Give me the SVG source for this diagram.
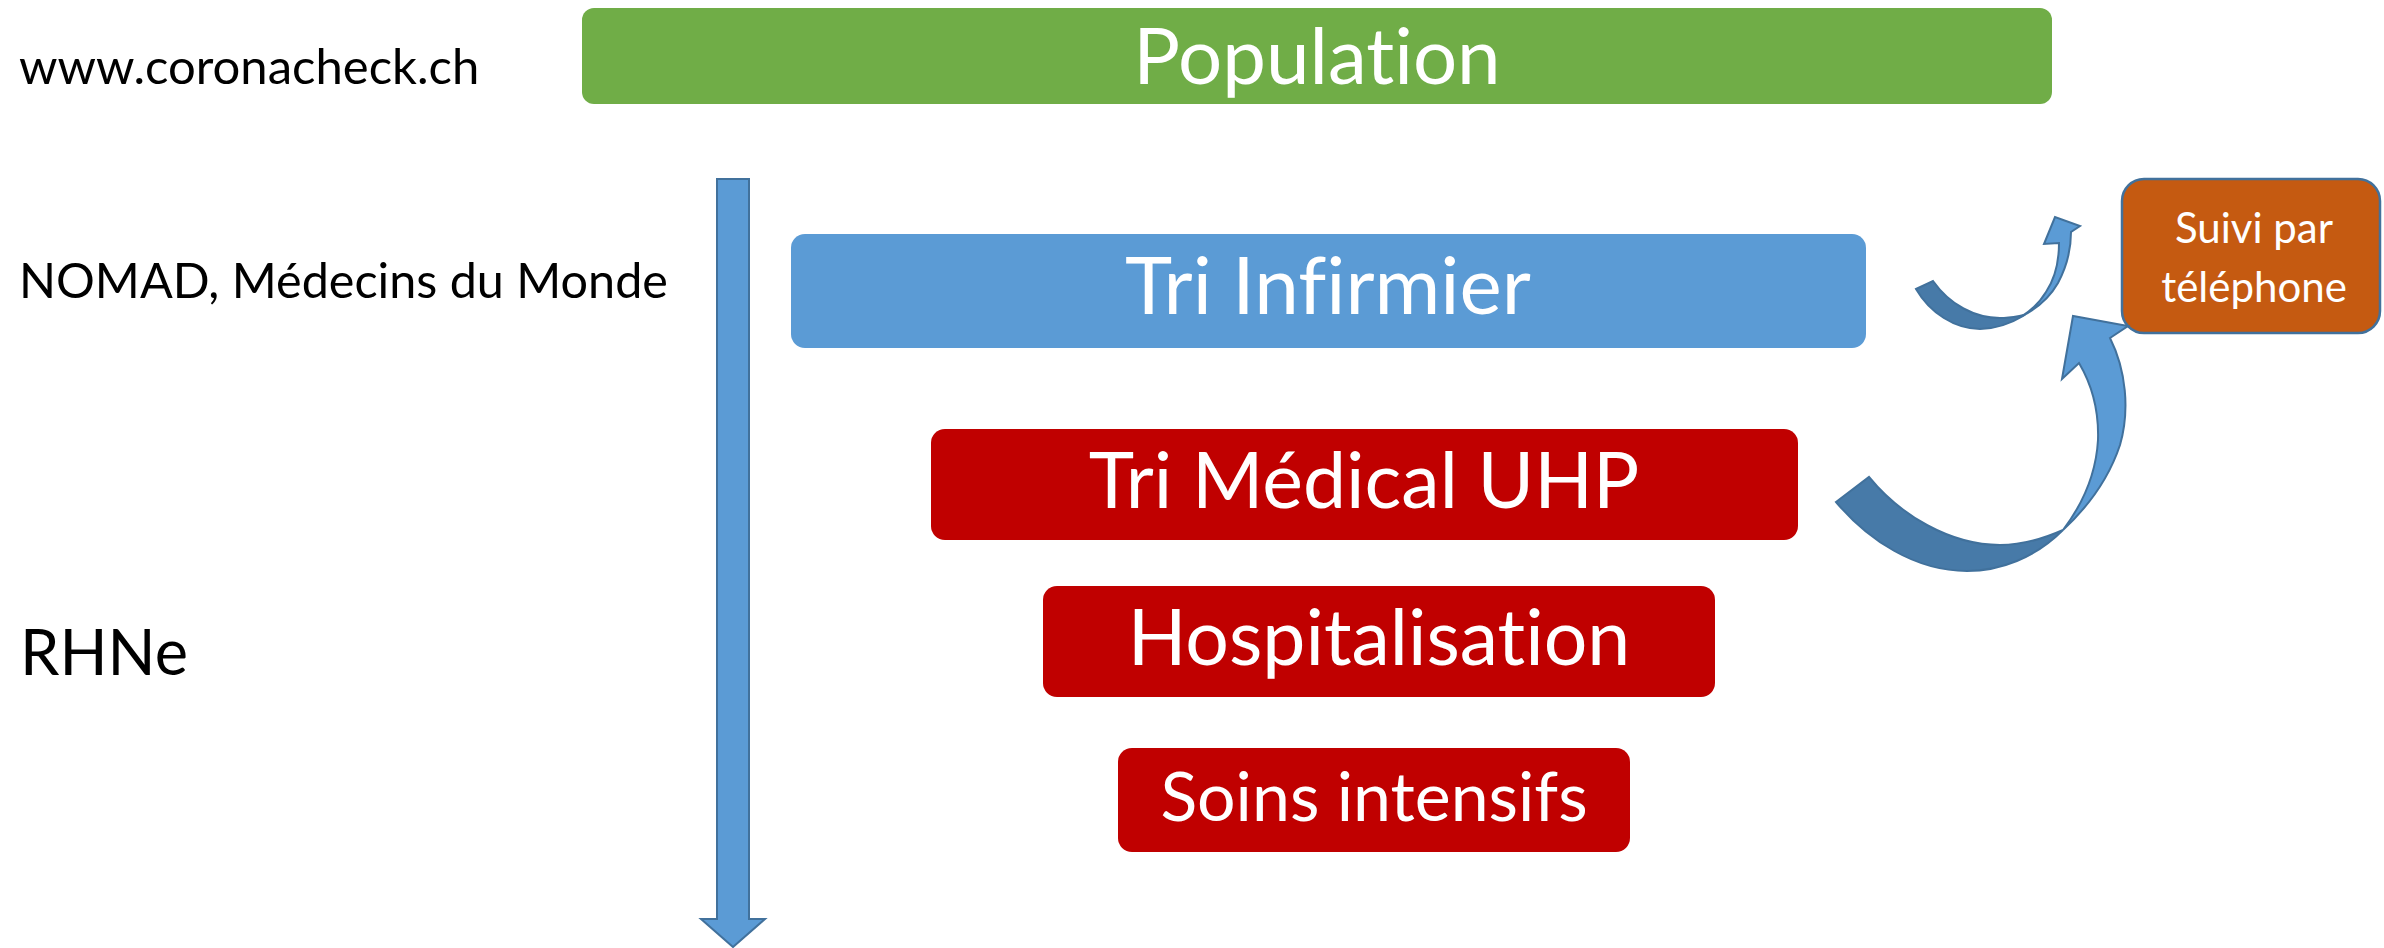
<svg xmlns="http://www.w3.org/2000/svg" width="2384" height="948" viewBox="0 0 2384 948">
<style>
.lbl{font-family:Lato,"Open Sans","Liberation Sans",sans-serif;fill:#000;font-variant-ligatures:none}
.bt{font-family:Lato,"Open Sans","Liberation Sans",sans-serif;fill:#fff;text-anchor:middle;font-variant-ligatures:none}
.dark{fill:#477AA8;stroke:#41719C;stroke-width:2;stroke-linejoin:miter}
.light{fill:#5B9BD5;stroke:#41719C;stroke-width:2;stroke-linejoin:miter}
</style>
<rect width="2384" height="948" fill="#fff"/>
<g id="labels">
<text class="lbl" x="19" y="84" font-size="49">www.coronacheck.ch</text>
<text class="lbl" x="19" y="298" font-size="48.5">NOMAD, Médecins du Monde</text>
<text class="lbl" x="20" y="675" font-size="63">RHNe</text>
</g>
<g id="population">
<rect x="582" y="8" width="1470" height="96" rx="12" fill="#70AD47"/>
<text class="bt" x="1317" y="84" font-size="78">Population</text>
</g>
<g id="tri-infirmier">
<rect x="791" y="234" width="1075" height="114" rx="14" fill="#5B9BD5"/>
<text class="bt" x="1328" y="314" font-size="80">Tri Infirmier</text>
</g>
<g id="tri-medical">
<rect x="931" y="429" width="867" height="111" rx="14" fill="#C00000"/>
<text class="bt" x="1364" y="508" font-size="77">Tri Médical UHP</text>
</g>
<g id="hospitalisation">
<rect x="1043" y="586" width="672" height="111" rx="14" fill="#C00000"/>
<text class="bt" x="1379" y="665" font-size="77">Hospitalisation</text>
</g>
<g id="soins-intensifs">
<rect x="1118" y="748" width="512" height="104" rx="14" fill="#C00000"/>
<text class="bt" x="1374" y="821" font-size="68">Soins intensifs</text>
</g>
<g id="suivi">
<rect x="2122" y="179" width="258" height="154" rx="22" fill="#C55A11" stroke="#41719C" stroke-width="2.5"/>
<text class="bt" x="2254" y="243" font-size="42">Suivi par</text>
<text class="bt" x="2254" y="302" font-size="42">téléphone</text>
</g>
<g id="connectors">
<path class="light" d="M717,179 L749,179 L749,919 L765,919 L733,947 L701,919 L717,919 Z"/>
<path class="dark" d="M1916,289 L1933,281 C1950,305 1975,318 2000,318 C2010,318 2018,316 2025,315 C2010,324 1995,329 1980,329 C1955,329 1930,313 1916,289 Z"/>
<path class="light" d="M2022,316 C2038,308 2050,297 2058,283 C2066,268 2071,250 2071,232 L2080,226 L2055,217 L2044,244 L2059,243 C2059,262 2054,280 2046,292 C2040,302 2032,310 2022,316 Z"/>
<path class="dark" d="M1836,502 L1869,477 C1900,515 1950,545 2000,545 C2025,545 2045,538 2063,530 C2035,558 2000,571 1967,571 C1915,571 1868,540 1836,502 Z"/>
<path class="light" d="M2063,530 C2090,505 2110,475 2120,445 C2130,410 2126,370 2110,338 L2128,326 L2073,316 L2062,379 L2079,363 C2092,385 2099,410 2098,440 C2096,475 2082,505 2063,530 Z"/>
</g>
</svg>
